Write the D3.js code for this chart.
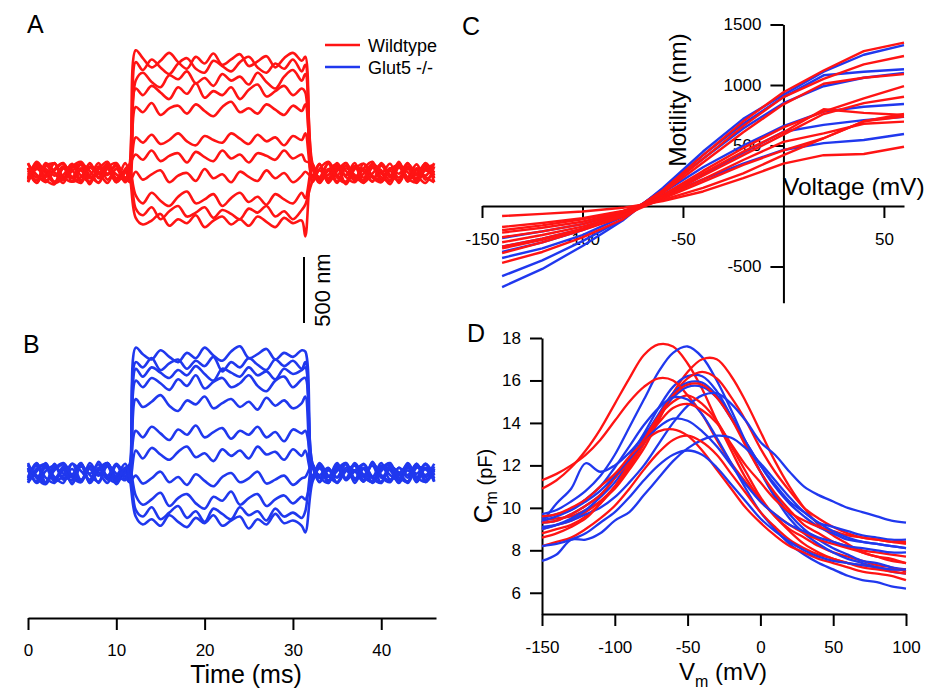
<!DOCTYPE html>
<html><head><meta charset="utf-8">
<script src="https://cdn.jsdelivr.net/npm/d3@7"></script>
<style>body{margin:0;background:#fff}svg{display:block}text{font-family:"Liberation Sans",Arial,Helvetica,sans-serif;fill:#000}</style>
</head><body><svg id="fig" width="940" height="696"></svg>
<script>
const RED = "#ff1414", BLUE = "#2038ee";

// ---------- Panels A/B : motility traces (nm) vs time (ms) ----------
const timeMs = [0,1,2,3,4,5,6,7,8,9,10,11,11.5,12.2,13,14,15,16,17,18,19,20,21,22,23,24,25,26,27,28,29,30,31,31.4,32.2,33,34,35,36,37,38,39,40,41,42,43,44,45,46];
const timeTicks = [0,10,20,30,40];

const wildtypeTraces = [
 [-30,65,15,-75,-40,50,85,-20,-70,35,-10,-55,40, 930,870,800,850,910,840,790,880,830,905,820,860,900,810,845,885,800,870,910,850,880, -70,30,85,-15,-65,50,-35,70,5,-85,40,-30,65,-50,15],
 [70,-15,-65,30,75,-40,20,-85,50,-5,55,-50,-20, 840,780,860,800,750,830,870,790,760,850,810,770,840,880,800,760,830,790,860,770,820, 40,-75,20,65,-30,-70,35,85,-50,15,-65,50,-15,70,-40],
 [-50,85,-5,-70,35,-30,65,15,-75,40,75,-35,5, 700,760,690,650,740,710,770,680,720,660,750,700,730,670,760,690,640,730,780,700,750, 75,-40,-15,55,-85,30,70,-20,-55,35,-5,75,-65,20,-35],
 [20,-75,50,70,-30,-65,35,-15,75,-50,30,-70,55, 640,590,660,610,560,650,600,680,570,620,590,650,560,630,670,580,620,660,590,640,610, -20,65,-70,15,75,-35,-55,40,-5,70,-75,30,-40,55,5],
 [-70,30,-20,75,-55,40,65,-40,-5,70,-65,20,-30, 500,460,530,440,490,510,450,520,470,430,500,540,460,490,450,520,480,440,510,470,520, 55,-30,75,-65,35,-15,-75,50,20,-55,70,-35,-5,65,-70],
 [40,-55,75,5,-75,55,-20,-65,30,85,-40,15,-70, 270,230,290,220,250,300,240,210,280,250,230,300,260,220,290,240,270,210,280,250,300, -35,70,-55,30,-15,75,-70,40,-30,-65,55,5,-50,75,-20],
 [-15,70,-50,-85,40,20,-65,75,-30,50,-70,30,65, 140,100,170,90,130,150,80,160,120,90,170,110,140,80,150,130,100,170,110,140,90, 70,-50,20,-75,55,-30,35,-65,75,-15,-55,40,-75,30,65],
 [75,-35,30,-65,-15,70,-55,50,5,-75,35,-40,-65, 10,-50,-10,20,-70,-20,0,-60,30,-40,-10,-70,10,-30,-60,20,-40,0,-70,-20,10, -30,65,-75,40,15,-55,70,-35,-70,30,55,-65,20,-20,75],
 [-65,40,-30,75,-50,15,65,-75,35,-15,70,-55,20, -170,-230,-150,-210,-250,-180,-140,-230,-200,-160,-250,-190,-150,-220,-180,-240,-160,-200,-230,-150,-190, 40,-70,30,-20,75,-50,-5,65,-65,35,-35,70,-15,-75,50],
 [35,-75,65,-20,50,-65,-30,70,-40,30,-70,5,55, -270,-320,-260,-350,-290,-250,-330,-300,-260,-340,-280,-310,-350,-270,-300,-250,-330,-290,-350,-280,-240, -65,20,-40,75,-20,50,-70,-5,65,-35,85,-55,35,-30,-70],
 [-40,55,-70,20,70,-35,-75,40,-5,65,-50,75,-15, -340,-390,-360,-310,-400,-350,-380,-320,-410,-360,-330,-390,-350,-400,-330,-370,-410,-340,-380,-360,-480, 30,-55,70,-35,-75,50,15,-65,55,-20,75,-40,-70,35,-15]
];

const glut5Traces = [
 [65,-40,-85,30,75,-20,-65,50,5,-75,55,-30,35, 950,900,860,930,880,840,910,870,950,890,850,920,960,870,900,940,860,910,880,930,920, -55,75,-20,-70,40,15,-65,85,-35,30,-75,50,-5,65,-40],
 [-75,15,70,-50,35,-85,55,-15,-65,75,-30,40,-55, 840,800,870,780,830,860,790,850,810,880,770,840,800,870,820,780,860,810,850,790,840, 70,-30,-75,50,-50,65,-15,-70,35,75,-55,20,-35,70,-65],
 [30,-65,50,-30,-75,70,15,-50,85,-35,-70,35,65, 790,730,800,760,720,780,740,810,750,700,790,760,730,800,740,770,710,790,750,780,800, -50,65,-70,30,75,-40,-20,55,-75,40,5,-65,70,-30,50],
 [-30,75,-70,40,-5,-55,65,-75,20,70,-50,30,-70, 700,650,720,680,630,710,660,740,640,690,720,650,680,740,660,620,700,730,650,710,720, 75,-15,40,-75,20,-50,70,-30,-65,55,-5,-75,40,30,-55],
 [55,-20,-75,70,-40,30,-65,75,-15,50,-85,20,-35, 560,500,540,590,510,470,550,520,580,490,530,560,500,540,480,570,510,550,490,530,580, -35,70,-55,15,65,-75,35,-30,75,-50,-5,55,-70,40,-20],
 [-70,35,65,-55,20,-30,75,-75,40,-20,65,-50,15, 320,270,350,300,250,330,290,360,270,310,340,260,320,290,350,270,310,240,330,300,320, 50,-65,20,-35,75,-55,30,-70,55,-15,-50,75,-30,-65,35],
 [40,-75,15,55,-50,-15,75,-65,30,-40,70,-20,-70, 170,110,190,140,100,160,200,120,150,90,180,130,170,110,200,140,160,100,180,130,170, -20,55,-70,35,-40,75,-30,-65,50,20,-75,40,-50,70,-15],
 [-55,70,-35,-75,50,-15,55,-65,35,75,-40,5,-65, -20,-80,-40,10,-70,-30,-90,-10,-60,-100,-30,0,-70,-40,10,-80,-50,-20,-90,-40,-30, 65,-40,35,-75,15,55,-55,75,-30,-70,40,-15,65,-50,30],
 [75,-30,40,-65,-20,70,-50,30,-75,55,-5,-55,50, -170,-240,-200,-150,-250,-190,-160,-230,-270,-180,-210,-140,-240,-190,-160,-250,-200,-170,-230,-180,-200, -30,50,-75,65,-40,20,-65,75,-15,-55,40,-35,70,-70,20],
 [-40,55,-75,20,65,-35,-70,50,-20,75,-55,35,15, -280,-330,-260,-350,-300,-250,-340,-290,-370,-270,-310,-350,-260,-320,-290,-360,-270,-330,-300,-340,-290, 55,-70,30,-30,70,-50,40,-75,15,65,-35,-65,50,-15,70],
 [20,-65,75,-40,30,-75,50,-5,65,-50,-20,70,-35, -330,-390,-350,-400,-320,-370,-410,-340,-380,-320,-400,-360,-330,-420,-350,-390,-310,-380,-360,-400,-450, -70,35,-30,75,-55,15,65,-40,-75,50,-20,70,-50,30,-65]
];

// ---------- Panel C : motility (nm) vs voltage (mV) ----------
const cVoltage = [-140,-120,-100,-80,-60,-40,-20,0,20,40,60];
const cVoltTicks = [-150,-100,-50,50];
const cMotTicks = [-500,500,1000,1500];
const cWildtype = [
 [-390,-300,-200,-90,130,420,700,940,1120,1280,1350],
 [-470,-380,-260,-110,120,390,660,900,1050,1170,1240],
 [-336,-270,-190,-80,110,360,610,840,1010,1060,1090],
 [-258,-210,-150,-60,90,290,480,650,780,890,990],
 [-173,-140,-100,-40,70,250,420,590,760,850,903],
 [-300,-240,-170,-70,80,270,450,610,800,770,752],
 [-220,-180,-130,-50,70,220,380,530,600,680,697],
 [-350,-280,-190,-80,60,200,340,460,560,700,740],
 [-83,-65,-45,-15,40,120,230,350,420,430,490],
 [-200,-160,-110,-45,50,150,270,420,560,700,760]
];
const cGlut5 = [
 [-670,-520,-330,-120,150,450,720,920,1110,1250,1330],
 [-580,-450,-290,-110,140,420,680,900,1080,1110,1130],
 [-430,-350,-240,-90,130,390,640,850,990,1060,1100],
 [-380,-300,-200,-75,110,320,500,660,780,820,843],
 [-265,-210,-150,-60,90,260,440,614,670,710,738],
 [-336,-270,-190,-70,80,220,350,463,520,545,595]
];

// ---------- Panel D : Cm (pF) vs Vm (mV) ----------
const dVoltage = [-150,-140,-130,-120,-110,-100,-90,-80,-70,-60,-50,-40,-30,-20,-10,0,10,20,30,40,50,60,70,80,90,100];
const dVoltTicks = [-150,-100,-50,0,50,100];
const dCmTicks = [6,8,10,12,14,16,18];
const dWildtype = [
 [10.9,11.3,11.9,12.7,13.7,14.9,16.1,17.2,17.7,17.6,16.8,15.6,14.1,12.7,11.4,10.4,9.6,9.0,8.6,8.2,7.9,7.7,7.5,7.3,7.2,7.0],
 [9.4,9.5,9.6,9.9,10.3,10.9,11.8,12.8,14.1,15.4,16.4,17.0,17.0,16.2,15.0,13.6,12.2,11.0,10.0,9.2,8.7,8.3,7.9,7.7,7.5,7.4],
 [9.0,9.2,9.4,9.8,10.3,11.0,11.9,13.0,14.2,15.3,16.1,16.4,16.1,15.2,14.1,12.8,11.7,10.8,10.0,9.5,9.1,8.8,8.6,8.5,8.4,8.3],
 [11.3,11.6,12.0,12.5,13.2,14.1,15.0,15.7,16.1,16.0,15.3,14.4,13.2,12.1,11.2,10.3,9.7,9.2,8.8,8.5,8.3,8.1,7.9,7.7,7.6,7.4],
 [8.8,9.0,9.2,9.6,10.2,11.0,12.0,13.1,14.3,15.3,15.8,15.8,15.2,14.2,12.9,11.7,10.7,9.9,9.2,8.8,8.4,8.2,8.0,7.9,7.8,7.7],
 [8.6,8.8,9.1,9.5,10.2,11.0,12.1,13.2,14.3,15.0,15.3,14.9,14.1,12.9,11.7,10.5,9.6,8.9,8.3,7.9,7.6,7.4,7.2,7.1,7.0,6.9],
 [9.3,9.4,9.7,10.1,10.6,11.4,12.2,13.2,14.0,14.7,14.9,14.6,14.0,13.0,12.0,11.2,10.4,9.8,9.4,9.1,8.9,8.7,8.6,8.5,8.4,8.4],
 [9.6,9.7,10.0,10.4,11.0,11.6,12.4,13.1,13.6,13.7,13.4,12.7,11.8,10.9,10.0,9.3,8.7,8.2,7.9,7.6,7.4,7.2,7.0,6.9,6.8,6.6],
 [8.2,8.4,8.6,9.0,9.5,10.1,10.9,11.8,12.6,13.2,13.4,13.1,12.5,11.6,10.7,9.8,9.1,8.5,8.1,7.8,7.6,7.4,7.3,7.2,7.1,7.1]
];
const dGlut5 = [
 [9.7,9.9,10.3,10.8,11.5,12.5,13.8,15.1,16.4,17.3,17.6,17.1,16.0,14.6,13.1,11.7,10.5,9.5,8.8,8.3,7.9,7.6,7.4,7.2,7.0,6.9],
 [9.3,9.4,9.7,10.1,10.6,11.4,12.4,13.5,14.7,15.7,16.2,16.2,15.5,14.3,13.0,11.7,10.6,9.7,9.0,8.5,8.1,7.8,7.5,7.4,7.2,7.1],
 [9.0,9.2,9.5,9.9,10.5,11.2,12.2,13.3,14.4,15.4,15.9,15.9,15.3,14.3,13.1,12.0,11.0,10.2,9.6,9.1,8.8,8.5,8.4,8.3,8.2,8.1],
 [9.3,10.2,10.9,12.1,11.7,12.0,12.6,13.4,14.3,15.2,15.7,15.7,15.2,14.2,13.1,12.0,11.1,10.3,9.8,9.3,9.1,8.9,8.7,8.6,8.5,8.5],
 [9.1,9.2,9.4,9.7,10.0,10.5,11.2,12.0,13.0,14.0,14.8,15.3,15.4,14.9,14.1,13.1,12.5,11.7,11.0,10.6,10.3,10.0,9.8,9.6,9.4,9.3],
 [9.4,9.6,9.9,10.4,11.0,11.9,12.9,13.9,14.7,15.2,15.1,14.4,13.3,12.1,10.9,9.8,9.0,8.3,7.8,7.4,7.1,6.8,6.6,6.5,6.3,6.2],
 [9.5,9.7,9.9,10.3,10.8,11.5,12.3,13.1,13.8,14.2,14.1,13.6,12.9,12.0,11.1,10.3,9.7,9.2,8.9,8.6,8.4,8.2,8.1,8.0,7.9,7.9],
 [7.5,7.8,8.5,8.5,8.8,9.4,9.8,10.6,11.4,12.2,12.8,13.2,13.4,13.3,12.8,12.1,11.3,10.5,9.8,9.3,8.9,8.6,8.4,8.3,8.2,8.1],
 [8.2,8.3,8.5,8.8,9.3,9.8,10.5,11.3,12.0,12.5,12.7,12.5,11.9,11.1,10.3,9.5,8.9,8.4,8.0,7.7,7.5,7.4,7.3,7.2,7.1,7.1]
];

const legendLabels = ["Wildtype", "Glut5 -/-"];

// ---------- drawing ----------
const svg = d3.select("#fig");
const FONT = 17;
const plain = d => String(d);

function styleAxis(g) {
  g.selectAll(".domain").attr("stroke", "#000").attr("stroke-width", 2);
  g.selectAll(".tick line").attr("stroke", "#000").attr("stroke-width", 2);
  g.selectAll(".tick text").attr("font-size", FONT).attr("fill", "#000")
   .attr("font-family", '"Liberation Sans",Arial,sans-serif');
}

// Panels A, B
const xT = d3.scaleLinear().domain([0, 46.2]).range([28, 436]);
const yA = d3.scaleLinear().domain([0, 500]).range([173, 107]);
const yB = d3.scaleLinear().domain([0, 500]).range([473, 407]);
const traceCurve = d3.curveCatmullRom.alpha(0.5);

function drawTraces(data, yS, color) {
  const line = d3.line().x((d, i) => xT(timeMs[i])).y(d => yS(d)).curve(traceCurve);
  svg.append("g").selectAll("path").data(data).join("path")
    .attr("d", line).attr("fill", "none").attr("stroke", color)
    .attr("stroke-width", 2.6).attr("stroke-linejoin", "round");
}
drawTraces(wildtypeTraces, yA, RED);
drawTraces(glut5Traces, yB, BLUE);

const gT = svg.append("g").attr("transform", "translate(0,618)")
  .call(d3.axisBottom(xT).tickValues(timeTicks).tickFormat(plain).tickSize(12).tickSizeOuter(0).tickPadding(14));
styleAxis(gT);
svg.append("text").attr("x", 246).attr("y", 683).attr("text-anchor", "middle")
  .attr("font-size", 25).text("Time (ms)");

// scale bar 500 nm
const barLen = yA(0) - yA(500);
svg.append("line").attr("x1", 304).attr("x2", 304).attr("y1", 257).attr("y2", 257 + barLen)
  .attr("stroke", "#000").attr("stroke-width", 2);
svg.append("text").attr("transform", `translate(330,${257 + barLen / 2}) rotate(-90)`)
  .attr("text-anchor", "middle").attr("font-size", 22).text("500 nm");

// legend
[RED, BLUE].forEach((c, i) => {
  const y = 45 + i * 22;
  svg.append("line").attr("x1", 325).attr("x2", 360).attr("y1", y).attr("y2", y)
    .attr("stroke", c).attr("stroke-width", 2.5);
  svg.append("text").attr("x", 368).attr("y", y + 7).attr("font-size", 18).text(legendLabels[i]);
});

// Panel C
const xC = d3.scaleLinear().domain([-150, 60]).range([482, 904]);
const yC = d3.scaleLinear().domain([-800, 1500]).range([302.8, 24.5]);
const gCx = svg.append("g").attr("transform", `translate(0,${yC(0)})`)
  .call(d3.axisBottom(xC).tickValues(cVoltTicks).tickFormat(plain).tickSize(12).tickSizeOuter(0).tickPadding(15));
styleAxis(gCx);
const gCy = svg.append("g").attr("transform", `translate(${xC(0)},0)`)
  .call(d3.axisLeft(yC).tickValues(cMotTicks).tickFormat(plain).tickSize(13).tickSizeOuter(0).tickPadding(9));
styleAxis(gCy);
svg.append("text").attr("transform", `translate(686,100) rotate(-90)`).attr("text-anchor", "middle")
  .attr("font-size", 24.5).text("Motility (nm)");
svg.append("text").attr("x", 783).attr("y", 195).attr("font-size", 24.5).text("Voltage (mV)");

const lineC = d3.line().x((d, i) => xC(cVoltage[i])).y(d => yC(d));
svg.append("g").selectAll("path").data(cGlut5).join("path").attr("d", lineC)
  .attr("fill", "none").attr("stroke", BLUE).attr("stroke-width", 2.4).attr("stroke-linejoin", "round");
svg.append("g").selectAll("path").data(cWildtype).join("path").attr("d", lineC)
  .attr("fill", "none").attr("stroke", RED).attr("stroke-width", 2.4).attr("stroke-linejoin", "round");

// Panel D
const xD = d3.scaleLinear().domain([-150, 100]).range([542, 906]);
const yD = d3.scaleLinear().domain([5, 18]).range([614, 338]);
const gDx = svg.append("g").attr("transform", "translate(0,614)")
  .call(d3.axisBottom(xD).tickValues(dVoltTicks).tickFormat(plain).tickSize(12).tickSizeOuter(0).tickPadding(15));
styleAxis(gDx);
const gDy = svg.append("g").attr("transform", "translate(542,0)")
  .call(d3.axisLeft(yD).tickValues(dCmTicks).tickFormat(plain).tickSize(12).tickSizeOuter(0).tickPadding(9));
styleAxis(gDy);

const lineD = d3.line().x((d, i) => xD(dVoltage[i])).y(d => yD(d)).curve(d3.curveCatmullRom.alpha(0.5));
const dAll = [];
for (let i = 0; i < Math.max(dWildtype.length, dGlut5.length); i++) {
  if (dWildtype[i]) dAll.push({v: dWildtype[i], c: RED});
  if (dGlut5[i]) dAll.push({v: dGlut5[i], c: BLUE});
}
svg.append("g").selectAll("path").data(dAll).join("path").attr("d", d => lineD(d.v))
  .attr("fill", "none").attr("stroke", d => d.c).attr("stroke-width", 2.3).attr("stroke-linejoin", "round");

const vm = svg.append("text").attr("x", 723).attr("y", 680).attr("text-anchor", "middle").attr("font-size", 24);
vm.append("tspan").text("V");
vm.append("tspan").attr("font-size", 16).attr("dy", 7).text("m");
vm.append("tspan").attr("dy", -7).text(" (mV)");

const cm = svg.append("text").attr("transform", "translate(492,486) rotate(-90)").attr("text-anchor", "middle").attr("font-size", 26);
cm.append("tspan").text("C");
cm.append("tspan").attr("font-size", 16).attr("dy", 5).text("m");
cm.append("tspan").attr("font-size", 20).attr("dy", -5).text(" (pF)");

// panel letters
[["A", 27, 33], ["B", 23, 353], ["C", 462, 35], ["D", 467, 342]].forEach(([t, x, y]) =>
  svg.append("text").attr("x", x).attr("y", y).attr("font-size", 25).text(t));
</script></body></html>
